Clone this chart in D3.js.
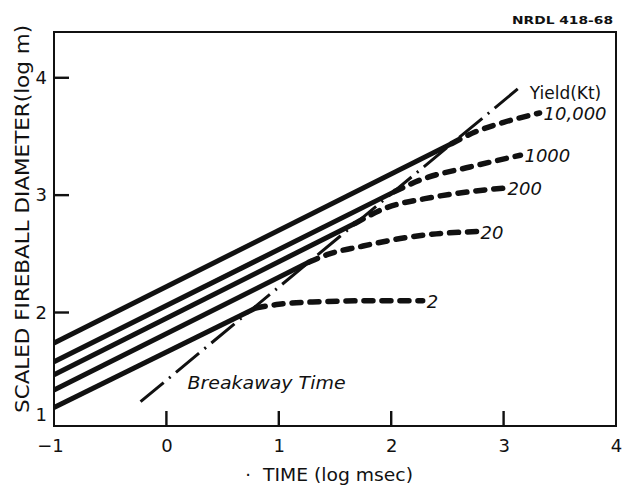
<!DOCTYPE html>
<html>
<head>
<meta charset="utf-8">
<script src="https://cdn.jsdelivr.net/npm/d3@7"></script>
<style>
  html, body { margin: 0; padding: 0; background: #fff; }
  svg { display: block; }
  text { font-family: "DejaVu Sans", sans-serif; fill: #111; }
</style>
</head>
<body>
<div id="chart"></div>
<script>
// ---- data ----
const xTicks = [-1, 0, 1, 2, 3, 4];
const yTicks = [1, 2, 3, 4];
const yields = ["10,000", "1000", "200", "20", "2"];
// solid (pre-breakaway) segments, [log t (msec), log D (m)]
const solid10000 = [[-1, 1.74], [2.54, 3.44]];
const solid1000  = [[-1, 1.58], [2.03, 3.03]];
const solid200   = [[-1, 1.47], [1.68, 2.76]];
const solid20    = [[-1, 1.34], [1.27, 2.43]];
const solid2     = [[-1, 1.19], [0.80, 2.04]];
// dashed (post-breakaway) curves
const dash10000 = [[2.54, 3.44], [2.75, 3.54], [3.0, 3.62], [3.32, 3.70]];
const dash1000  = [[2.03, 3.03], [2.26, 3.13], [2.7, 3.24], [3.15, 3.34]];
const dash200   = [[1.68, 2.76], [1.95, 2.89], [2.3, 2.97], [2.7, 3.03], [3.0, 3.06]];
const dash20    = [[1.27, 2.43], [1.45, 2.50], [1.72, 2.56], [2.08, 2.63], [2.4, 2.67], [2.76, 2.69]];
const dash2     = [[0.80, 2.04], [1.0, 2.07], [1.3, 2.09], [1.8, 2.10], [2.28, 2.10]];
const breakaway = [[-0.23, 1.24], [3.17, 3.94]];

const solids = [solid10000, solid1000, solid200, solid20, solid2];
const dashes = [dash10000, dash1000, dash200, dash20, dash2];

// ---- layout ----
const W = 624, H = 488;
const x = d3.scaleLinear().domain([-1, 4]).range([54, 616]);
const y = d3.scaleLinear().domain([1.033, 4.39]).range([426, 32]);

const svg = d3.select("#chart").append("svg").attr("width", W).attr("height", H);

const line = d3.line().x(d => x(d[0])).y(d => y(d[1]));
const curve = d3.line().x(d => x(d[0])).y(d => y(d[1])).curve(d3.curveMonotoneX);

// frame
svg.append("rect")
  .attr("x", x(-1)).attr("y", y(4.39))
  .attr("width", x(4) - x(-1)).attr("height", y(1.033) - y(4.39))
  .attr("fill", "none").attr("stroke", "#111").attr("stroke-width", 2);

// x axis labels
const xAxis = svg.append("g").attr("transform", `translate(0,${y(1.033)})`)
  .call(d3.axisBottom(x).tickValues(xTicks).tickSize(0)
    .tickPadding(13).tickFormat(d3.format("d")));
xAxis.select(".domain").remove();
xAxis.selectAll(".tick text").attr("font-size", 18).style("fill", "#111")
  .attr("dx", d => d === -1 ? -4 : 0);

// y axis labels
const yAxis = svg.append("g").attr("transform", `translate(${x(-1)},0)`)
  .call(d3.axisLeft(y).tickValues(yTicks).tickSize(0)
    .tickPadding(7).tickFormat(d3.format("d")));
yAxis.select(".domain").remove();
yAxis.selectAll(".tick text").attr("font-size", 18).style("fill", "#111");
// the "1" label sits just above the bottom frame line in the original
yAxis.selectAll(".tick").filter(d => d === 1)
  .attr("transform", `translate(0,${y(1.033) - 11})`);

// inward tick marks (drawn as thin filled rects)
svg.append("g").selectAll("rect").data(xTicks.filter(d => d > -1 && d < 4)).join("rect")
  .attr("x", d => x(d) - 1.2).attr("width", 2.4)
  .attr("y", y(1.033) - 15).attr("height", 15)
  .attr("fill", "#111");
svg.append("g").selectAll("rect").data(yTicks.filter(d => d > 1)).join("rect")
  .attr("x", x(-1)).attr("width", 15)
  .attr("y", d => y(d) - 1.2).attr("height", 2.4)
  .attr("fill", "#111");

// solid lines
svg.append("g").selectAll("path").data(solids).join("path")
  .attr("d", line).attr("fill", "none").attr("stroke", "#111")
  .attr("stroke-width", 5).attr("stroke-linecap", "butt");

// dashed continuation
svg.append("g").selectAll("path").data(dashes).join("path")
  .attr("d", curve).attr("fill", "none").attr("stroke", "#111")
  .attr("stroke-width", 5.5).attr("stroke-linecap", "round")
  .attr("stroke-dasharray", "9,9");

// breakaway line (dash-dot)
svg.append("path").datum(breakaway).attr("d", line)
  .attr("fill", "none").attr("stroke", "#111").attr("stroke-width", 3)
  .attr("stroke-dasharray", "30,7,2,7");

// yield labels
svg.append("g").selectAll("text").data(dashes).join("text")
  .attr("x", d => x(d[d.length - 1][0]) + 4)
  .attr("y", d => y(d[d.length - 1][1]) + 7)
  .attr("font-size", 18).attr("font-style", "italic")
  .text((d, i) => yields[i]);

const bEnd = breakaway[breakaway.length - 1];
svg.append("text").attr("x", x(bEnd[0]) + 7).attr("y", y(bEnd[1]) + 14)
  .attr("font-size", 17).text("Yield(Kt)");

const bStart = breakaway[0];
svg.append("text").attr("x", x(bStart[0]) + 47).attr("y", y(bStart[1]) - 13)
  .attr("font-size", 18).attr("font-style", "italic")
  .attr("textLength", 158).attr("lengthAdjust", "spacingAndGlyphs")
  .text("Breakaway Time");

// axis titles
svg.append("text").attr("transform", "translate(29,219) rotate(-90)")
  .attr("text-anchor", "middle").attr("font-size", 19)
  .attr("textLength", 388).attr("lengthAdjust", "spacingAndGlyphs")
  .text("SCALED FIREBALL DIAMETER(log m)");

svg.append("text").attr("x", 248).attr("y", 481).attr("font-size", 18)
  .attr("text-anchor", "middle").text("·");
svg.append("text").attr("x", 263).attr("y", 481).attr("font-size", 18)
  .attr("textLength", 150).attr("lengthAdjust", "spacingAndGlyphs")
  .text("TIME (log msec)");

// report number
svg.append("text").attr("x", 512).attr("y", 24).attr("font-size", 11)
  .attr("font-weight", "bold")
  .attr("textLength", 101).attr("lengthAdjust", "spacingAndGlyphs")
  .text("NRDL 418-68");
</script>
</body>
</html>
